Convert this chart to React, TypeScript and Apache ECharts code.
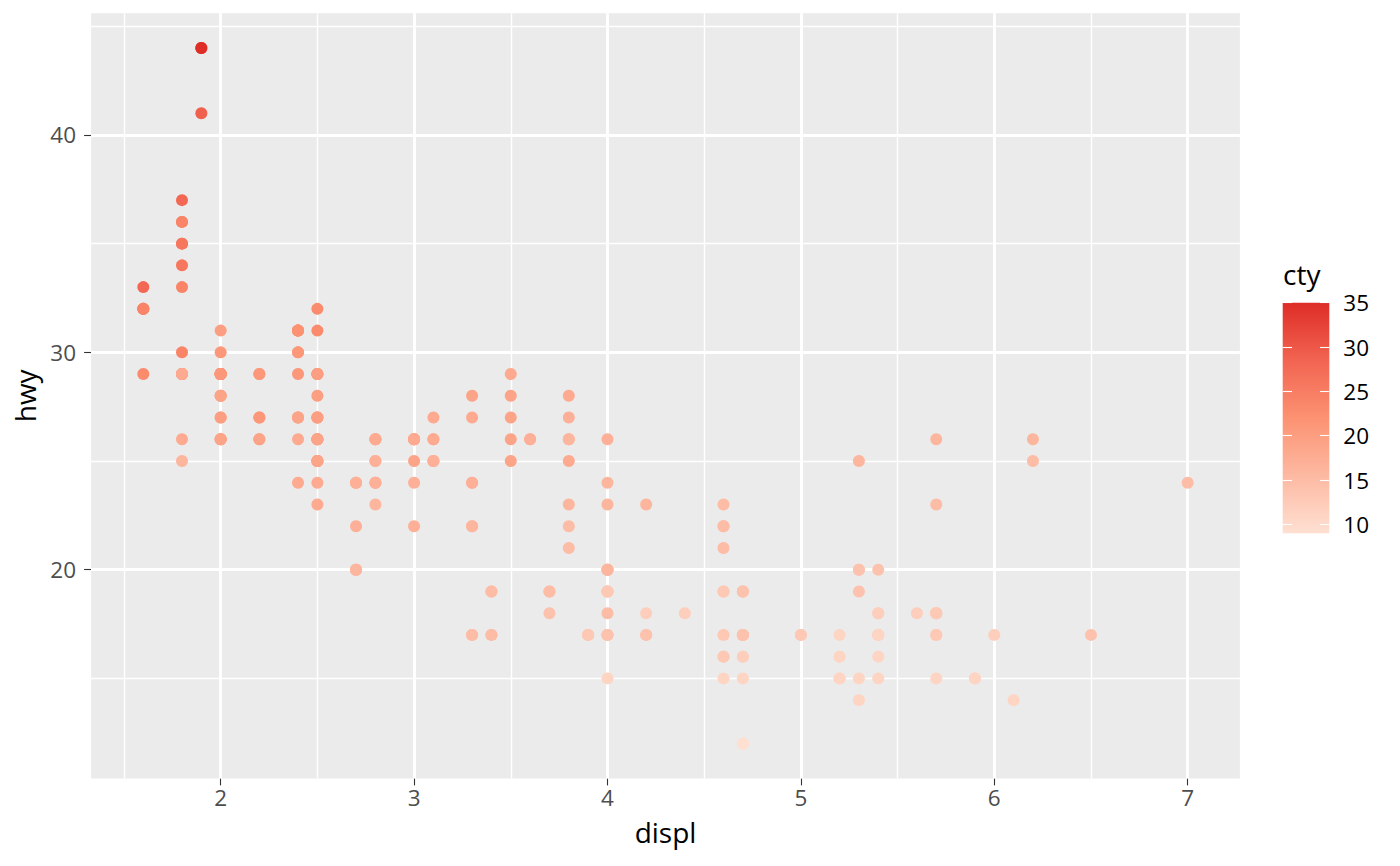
import React, { useEffect, useRef } from "react";
import * as echarts from "echarts";

// mpg dataset (in row order): engine displacement, highway mpg, city mpg
const displ: number[] = [
  1.8, 1.8, 2.0, 2.0, 2.8, 2.8, 3.1, 1.8, 1.8, 2.0, 2.0, 2.8, 2.8, 3.1, 3.1, 2.8, 3.1, 4.2,
  5.3, 5.3, 5.3, 5.7, 6.0, 5.7, 5.7, 6.2, 6.2, 7.0, 5.3, 5.3, 5.7, 6.5, 2.4, 2.4, 3.1, 3.5, 3.6,
  2.4, 3.0, 3.3, 3.3, 3.3, 3.3, 3.3, 3.8, 3.8, 3.8, 4.0,
  3.7, 3.7, 3.9, 3.9, 4.7, 4.7, 4.7, 5.2, 5.2,
  3.9, 4.7, 4.7, 4.7, 5.2, 5.7, 5.9,
  4.7, 4.7, 4.7, 4.7, 4.7, 4.7, 5.2, 5.2, 5.7, 5.9,
  4.6, 5.4, 5.4, 4.0, 4.0, 4.0, 4.0, 4.6, 5.0, 4.2, 4.2, 4.6, 4.6, 4.6, 5.4, 5.4,
  3.8, 3.8, 4.0, 4.0, 4.6, 4.6, 4.6, 4.6, 5.4,
  1.6, 1.6, 1.6, 1.6, 1.6, 1.8, 1.8, 1.8, 2.0,
  2.4, 2.4, 2.4, 2.4, 2.5, 2.5, 3.3, 2.0, 2.0, 2.0, 2.0, 2.7, 2.7, 2.7,
  3.0, 3.7, 4.0, 4.7, 4.7, 4.7, 5.7, 6.1,
  4.0, 4.2, 4.4, 4.6,
  5.4, 5.4, 5.4,
  4.0, 4.0, 4.6, 5.0,
  2.4, 2.4, 2.5, 2.5, 3.5, 3.5, 3.0, 3.0, 3.5, 3.3, 3.3, 4.0, 5.6,
  3.1, 3.8, 3.8, 3.8, 5.3,
  2.5, 2.5, 2.5, 2.5, 2.5, 2.5, 2.2, 2.2, 2.5, 2.5, 2.5, 2.5, 2.5, 2.5,
  2.7, 2.7, 3.4, 3.4, 4.0, 4.7,
  2.2, 2.2, 2.4, 2.4, 3.0, 3.0, 3.5,
  2.2, 2.2, 2.4, 2.4, 3.0, 3.0, 3.3,
  1.8, 1.8, 1.8, 1.8, 1.8,
  4.7, 5.7,
  2.7, 2.7, 2.7, 3.4, 3.4, 4.0, 4.0,
  2.0, 2.0, 2.0, 2.0, 2.8,
  1.9, 2.0, 2.0, 2.0, 2.0, 2.5, 2.5, 2.8, 2.8,
  1.9, 1.9, 2.0, 2.0, 2.5, 2.5,
  1.8, 1.8, 2.0, 2.0, 2.8, 2.8, 3.6,
];

const hwy: number[] = [
  29, 29, 31, 30, 26, 26, 27, 26, 25, 28, 27, 25, 25, 25, 25, 24, 25, 23,
  20, 15, 20, 17, 17, 26, 23, 26, 25, 24, 19, 14, 15, 17, 27, 30, 26, 29, 26,
  24, 24, 22, 22, 24, 24, 17, 22, 21, 23, 23,
  19, 18, 17, 17, 19, 19, 12, 17, 15,
  17, 17, 12, 17, 16, 18, 15,
  16, 12, 17, 17, 16, 12, 15, 16, 17, 15,
  17, 17, 18, 17, 19, 17, 19, 19, 17, 17, 17, 16, 16, 17, 15, 17,
  26, 25, 26, 24, 21, 22, 23, 22, 20,
  33, 32, 32, 29, 32, 34, 36, 36, 29,
  26, 27, 30, 31, 26, 26, 28, 26, 29, 28, 27, 24, 24, 24,
  22, 19, 20, 17, 12, 19, 18, 14,
  15, 18, 18, 15,
  17, 16, 18,
  17, 19, 19, 17,
  29, 27, 31, 32, 27, 26, 26, 25, 25, 17, 17, 20, 18,
  26, 26, 27, 28, 25,
  25, 24, 27, 25, 26, 23, 26, 26, 26, 26, 25, 27, 25, 27,
  20, 20, 19, 17, 20, 17,
  29, 27, 31, 31, 26, 26, 28,
  27, 29, 31, 31, 26, 26, 27,
  30, 33, 35, 37, 35,
  15, 18,
  20, 20, 22, 17, 19, 18, 20,
  29, 26, 29, 29, 24,
  44, 29, 26, 29, 29, 29, 29, 23, 24,
  44, 41, 29, 26, 28, 29,
  29, 29, 28, 29, 26, 26, 26,
];

const cty: number[] = [
  18, 21, 20, 21, 16, 18, 18, 18, 16, 20, 19, 15, 17, 17, 15, 15, 17, 16,
  14, 11, 14, 13, 12, 16, 15, 16, 15, 15, 14, 11, 11, 14, 19, 22, 18, 18, 17,
  18, 17, 16, 16, 17, 17, 11, 15, 15, 16, 16,
  15, 14, 13, 14, 14, 14, 9, 11, 11,
  13, 13, 9, 13, 11, 13, 11,
  12, 9, 13, 13, 12, 9, 11, 11, 13, 11,
  11, 11, 12, 14, 15, 14, 13, 13, 13, 14, 14, 13, 13, 13, 11, 13,
  18, 18, 17, 16, 15, 15, 15, 15, 14,
  28, 24, 25, 23, 24, 26, 25, 24, 21,
  18, 18, 21, 21, 18, 18, 19, 19, 19, 20, 20, 17, 16, 17,
  17, 15, 15, 14, 9, 14, 13, 11,
  11, 12, 12, 11,
  11, 11, 12,
  14, 13, 13, 13,
  21, 19, 23, 23, 19, 19, 18, 19, 19, 14, 15, 14, 12,
  18, 16, 17, 18, 16,
  18, 18, 20, 19, 20, 18, 21, 19, 19, 19, 20, 20, 19, 20,
  15, 16, 15, 15, 16, 14,
  21, 21, 21, 21, 18, 18, 19,
  21, 21, 21, 22, 18, 18, 18,
  24, 24, 26, 28, 26,
  11, 13,
  15, 16, 17, 15, 15, 15, 16,
  21, 19, 21, 22, 17,
  33, 21, 19, 22, 21, 21, 21, 16, 17,
  35, 29, 21, 19, 20, 20,
  21, 18, 19, 21, 16, 18, 17,
];

const xTicks: number[] = [2, 3, 4, 5, 6, 7];
const xMinor: number[] = [1.5, 2.5, 3.5, 4.5, 5.5, 6.5];
const yTicks: number[] = [20, 30, 40];
const yMinor: number[] = [15, 25, 35, 45];
const ctyTicks: number[] = [10, 15, 20, 25, 30, 35];
// Reds gradient, low → high (evenly spaced stops)
const ctyColors: string[] = ["#FEE0D2", "#FDB9A2", "#FC9272", "#F26451", "#DE2D26"];
const CTY_MIN = 9;
const CTY_MAX = 35;

const FONT = "'Open Sans', 'Noto Sans', sans-serif";

// colour bar geometry (legend)
const BAR = { left: 1282.7, top: 302.7, width: 46.6, height: 230.6 };

export default function App() {
  const ref = useRef<HTMLDivElement>(null);

  useEffect(() => {
    if (!ref.current) return;
    const chart = echarts.init(ref.current, undefined, { renderer: "svg" });

    const points = displ.map((d, i) => [d, hwy[i], cty[i]]);
    const minor = { color: "#FFFFFF", width: 1.45, type: "solid" };
    const major = { color: "#FFFFFF", width: 2.9, type: "solid" };
    const gridLines: any[] = [
      ...xMinor.map((v) => ({ xAxis: v, lineStyle: minor })),
      ...yMinor.map((v) => ({ yAxis: v, lineStyle: minor })),
      ...xTicks.map((v) => ({ xAxis: v, lineStyle: major })),
      ...yTicks.map((v) => ({ yAxis: v, lineStyle: major })),
    ];

    // white colour-bar ticks (20% of bar width on each side)
    const barTicks: any[] = [];
    ctyTicks.forEach((v) => {
      barTicks.push([{ coord: [0, v] }, { coord: [0.2, v] }]);
      barTicks.push([{ coord: [0.8, v] }, { coord: [1, v] }]);
    });

    const tickStyle = { color: "#333333", width: 1.1 };
    const n = ctyColors.length;

    chart.setOption({
      animation: false,
      textStyle: { fontFamily: FONT },
      grid: [
        {
          left: 91.1,
          top: 13.2,
          width: 1148.8,
          height: 765.2,
          show: true,
          backgroundColor: "#EBEBEB",
          borderWidth: 0,
          containLabel: false,
        },
        {
          left: BAR.left,
          top: BAR.top,
          width: BAR.width,
          height: BAR.height,
          show: false,
          containLabel: false,
        },
      ],
      xAxis: [
        {
          type: "value",
          gridIndex: 0,
          min: 1.33,
          max: 7.27,
          name: "displ",
          nameLocation: "middle",
          nameGap: 40,
          nameTextStyle: { fontSize: 28, color: "#000000", fontFamily: FONT },
          axisLine: { show: false },
          splitLine: { show: false },
          axisTick: { show: true, inside: false, length: 7, lineStyle: tickStyle, customValues: xTicks },
          axisLabel: {
            show: true,
            customValues: xTicks,
            fontSize: 22.5,
            color: "#4D4D4D",
            margin: 8,
            fontFamily: FONT,
          },
        },
        { type: "value", gridIndex: 1, min: 0, max: 1, show: false },
      ],
      yAxis: [
        {
          type: "value",
          gridIndex: 0,
          min: 10.4,
          max: 45.6,
          name: "hwy",
          nameLocation: "middle",
          nameRotate: 90,
          nameGap: 52,
          nameTextStyle: { fontSize: 28, color: "#000000", fontFamily: FONT },
          axisLine: { show: false },
          splitLine: { show: false },
          axisTick: { show: true, inside: false, length: 7, lineStyle: tickStyle, customValues: yTicks },
          axisLabel: {
            show: true,
            customValues: yTicks,
            fontSize: 22.5,
            color: "#4D4D4D",
            margin: 15,
            fontFamily: FONT,
          },
        },
        {
          type: "value",
          gridIndex: 1,
          position: "right",
          min: CTY_MIN,
          max: CTY_MAX,
          axisLine: { show: false },
          splitLine: { show: false },
          axisTick: { show: false },
          axisLabel: {
            show: true,
            customValues: ctyTicks,
            fontSize: 22.5,
            color: "#000000",
            margin: 14,
            fontFamily: FONT,
          },
        },
      ],
      visualMap: [
        {
          type: "continuous",
          show: false,
          seriesIndex: 1,
          dimension: 2,
          min: CTY_MIN,
          max: CTY_MAX,
          inRange: { color: ctyColors },
        },
      ],
      graphic: [
        {
          type: "rect",
          left: BAR.left,
          top: BAR.top,
          z: 0,
          silent: true,
          shape: { width: BAR.width, height: BAR.height },
          style: {
            fill: new echarts.graphic.LinearGradient(
              0,
              1,
              0,
              0,
              ctyColors.map((c, i) => ({ offset: i / (n - 1), color: c }))
            ),
          },
        },
        {
          type: "text",
          left: 1283,
          top: 260,
          z: 10,
          style: { text: "cty", fontSize: 28, fill: "#000000", fontFamily: FONT },
        },
      ],
      series: [
        {
          type: "line",
          xAxisIndex: 0,
          yAxisIndex: 0,
          data: [],
          z: 1,
          silent: true,
          markLine: {
            z: 1,
            silent: true,
            symbol: ["none", "none"],
            label: { show: false },
            emphasis: { disabled: true },
            animation: false,
            data: gridLines,
          },
        },
        {
          type: "scatter",
          xAxisIndex: 0,
          yAxisIndex: 0,
          z: 3,
          symbol: "circle",
          symbolSize: 12,
          itemStyle: { opacity: 1, borderWidth: 0 },
          emphasis: { disabled: true },
          data: points,
        },
        {
          type: "line",
          xAxisIndex: 1,
          yAxisIndex: 1,
          data: [],
          z: 20,
          silent: true,
          markLine: {
            z: 20,
            silent: true,
            symbol: ["none", "none"],
            label: { show: false },
            emphasis: { disabled: true },
            animation: false,
            lineStyle: { color: "#FFFFFF", width: 1.1, type: "solid" },
            data: barTicks,
          },
        },
      ],
    });

    return () => chart.dispose();
  }, []);

  return (
    <div
      ref={ref}
      style={{ position: "fixed", left: 0, top: 0, width: 1400, height: 866, background: "#FFFFFF" }}
    />
  );
}
